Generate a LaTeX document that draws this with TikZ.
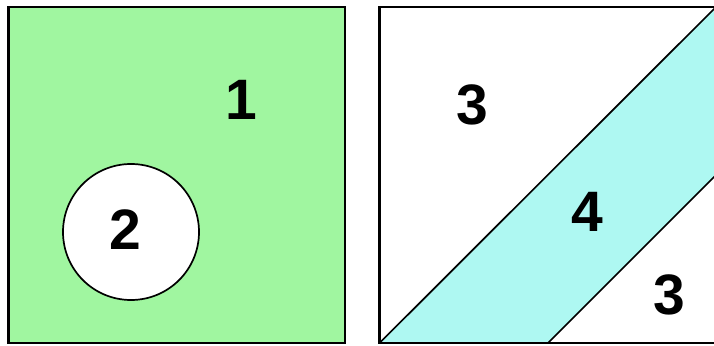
\documentclass[tikz,border=0pt]{standalone}
\usepackage{fontspec}
\setmainfont{Liberation Sans}
\usepackage{tikz}
\usetikzlibrary{positioning,calc}
\definecolor{RegionGreen}{RGB}{160,246,160}
\definecolor{RegionCyan}{RGB}{174,248,242}

\begin{document}
\begin{tikzpicture}[
    x=1pt,y=1pt,
    frame/.style={draw=black,line width=2.4pt},
    cut/.style={draw=black,line width=1.7pt},
    num/.style={font=\fontsize{57}{62}\selectfont\bfseries,inner sep=0pt}
]
\useasboundingbox (0,0) rectangle (714,345);
\begin{scope}
\clip (0,0) rectangle (714,345);
% left square with hole
\draw[frame,fill=RegionGreen] (8.5,2) rectangle (345,338);
\draw[cut,fill=white] (131,113) circle (68);
% right square with band
\coordinate (bl) at (379.5,2);
\coordinate (tr) at (716,338);
\coordinate (lb) at (548,2);
\coordinate (lr) at (716,170);
\fill[white] (bl) rectangle (tr);
\fill[RegionCyan] (bl) -- (lb) -- (lr) -- (tr) -- cycle;
\draw[cut] (bl) -- (tr);
\draw[cut] (lb) -- (lr);
\draw[frame] (bl) rectangle (tr);
\end{scope}

\node[num] (one) at (241,245) {1};
\node[num] (two) at (125,115) {2};
\node[num] (threea) at (472,240) {3};
\node[num] (four) at (587,133) {4};
\node[num] (threeb) at (669,50) {3};
\end{tikzpicture}
\end{document}
